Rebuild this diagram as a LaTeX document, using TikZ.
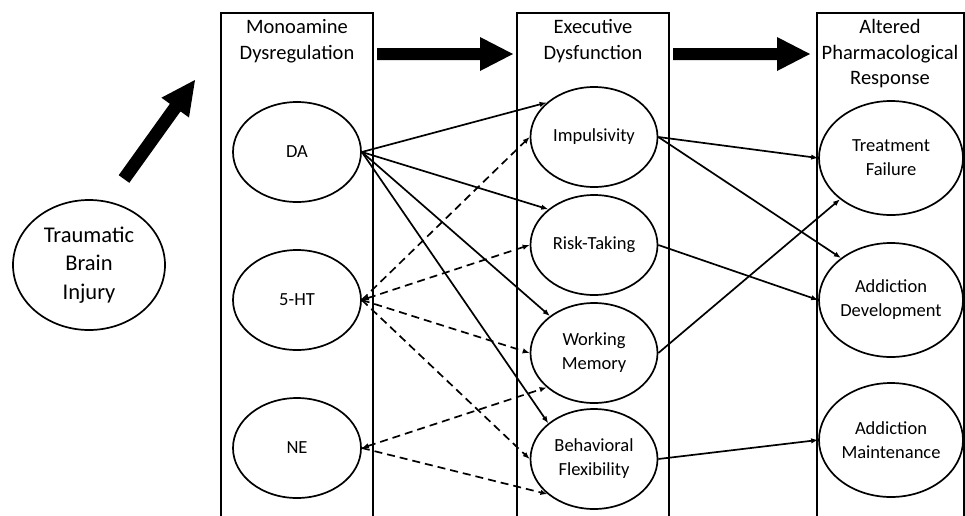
\documentclass[tikz,border=0pt]{standalone}
\usepackage{fontspec}
\setmainfont{Carlito}
\usetikzlibrary{shapes.geometric,arrows.meta}
\begin{document}
\begin{tikzpicture}[x=1pt,y=-1pt,
  oval/.style={draw,ellipse,line width=1.7pt,inner sep=0pt,align=center,font=\fontsize{18.5}{24}\selectfont},
  small/.style={oval,minimum width=128pt,minimum height=100pt},
  big/.style={oval,minimum width=144pt,minimum height=114pt},
  title/.style={align=center,font=\fontsize{20.5}{25.5}\selectfont,inner sep=0pt},
  boxline/.style={line width=1.7pt},
  link/.style={line width=1.7pt,-{Latex[length=7pt,width=5.5pt]}},
  dlink/.style={link,dash pattern=on 8pt off 5pt},
  fat/.style={fill=black,draw=none}]
\useasboundingbox (0,0) rectangle (965,515);
\fill[white] (0,0) rectangle (965,515);
% column boxes
\draw[boxline] (221,516) -- (221,13) -- (373,13) -- (373,516);
\draw[boxline] (517,516) -- (517,13) -- (669,13) -- (669,516);
\draw[boxline] (817,516) -- (817,13) -- (964,13) -- (964,516);
% titles
\node[title] (t1) at (297,41) {Monoamine\\Dysregulation};
\node[title] (t2) at (593,41) {Executive\\Dysfunction};
\node[title] (t3) at (890,54) {Altered\\Pharmacological\\Response};
% big arrows
\fill[fat] (377,48) -- (480,48) -- (480,37) -- (513,54) -- (480,71) -- (480,60) -- (377,60) -- cycle;
\fill[fat] (673,48) -- (777,48) -- (777,37) -- (810,54) -- (777,71) -- (777,60) -- (673,60) -- cycle;
\fill[fat] (118.7,175.2) -- (169.9,103.8) -- (161.4,97.7) -- (195,80) -- (189,117.5) -- (180.5,111.4) -- (129.3,182.8) -- cycle;
% nodes
\node[oval,minimum width=152pt,minimum height=130pt,font=\fontsize{22.5}{28.5}\selectfont] (tbi) at (89,265) {Traumatic\\Brain\\Injury};
\node[small] (da) at (297,152) {DA};
\node[small] (ht) at (297,300) {5-HT};
\node[small] (ne) at (297,448) {NE};
\node[small,minimum width=127pt] (imp) at (594,137) {Impulsivity};
\node[small,minimum width=127pt] (risk) at (594,245) {Risk-Taking};
\node[small,minimum width=127pt] (wm) at (594,353) {Working\\Memory};
\node[small,minimum width=127pt] (bf) at (594,459) {Behavioral\\Flexibility};
\node[big] (tf) at (891,158) {Treatment\\Failure};
\node[big] (ad) at (891,300) {Addiction\\Development};
\node[big] (am) at (891,440) {Addiction\\Maintenance};
% DA solid links
\draw[link] (da.east) -- (imp.144);
\draw[link] (da.east) -- (risk.142);
\draw[link] (da.east) -- (wm.140);
\draw[link] (da.east) -- (bf.142);
% 5-HT dashed links
\draw[dlink] (ht.east) -- (imp.west);
\draw[dlink,{Latex[length=7pt,width=5.5pt]}-{Latex[length=7pt,width=5.5pt]}] (ht.east) -- (risk.west);
\draw[dlink] (ht.east) -- (wm.west);
\draw[dlink] (ht.east) -- (bf.west);
% NE dashed links
\draw[dlink,{Latex[length=7pt,width=5.5pt]}-{Latex[length=7pt,width=5.5pt]}] (ne.east) -- (wm.216);
\draw[dlink] (ne.east) -- (bf.217);
% executive -> response
\draw[link] (imp.east) -- (tf.west);
\draw[link] (imp.east) -- (ad.140);
\draw[link] (risk.east) -- (ad.west);
\draw[link] (wm.east) -- (tf.219);
\draw[link] (bf.east) -- (am.west);
\end{tikzpicture}
\end{document}
